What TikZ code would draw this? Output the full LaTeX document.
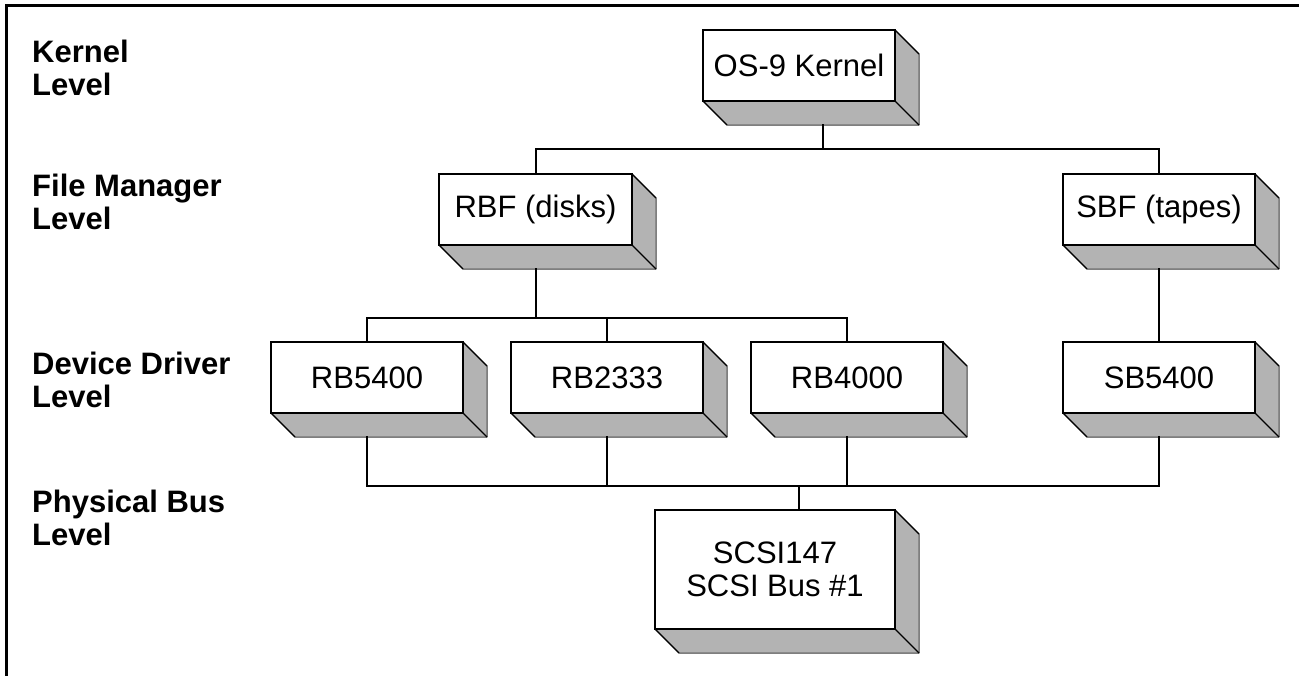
\documentclass[tikz,border=0pt]{standalone}
\usepackage{fontspec}
\setmainfont{Liberation Sans}
\usetikzlibrary{backgrounds}
\definecolor{facegray}{RGB}{179,179,179}
\tikzset{
  box/.style={draw=black, line width=2pt, fill=white, inner sep=0pt, outer sep=0pt,
    minimum width=192pt, minimum height=71pt, align=center,
    font=\fontsize{31}{32.5}\selectfont},
  lbl/.style={inner sep=0pt, align=left, anchor=base west,
    font=\fontsize{31}{32.5}\selectfont\bfseries},
  conn/.style={line width=2pt, line cap=rect},
  face/.style={fill=facegray, draw=black!75, line width=1pt, line join=round},
  edge3d/.style={draw=black, line width=1.3pt}
}
\newcommand{\threed}[1]{%
  \fill[face] (#1.south west) -- ++(24,24) -- ([shift={(24,24)}]#1.south east) -- ([shift={(24,24)}]#1.north east) -- (#1.north east) -- cycle;
  \draw[edge3d] (#1.south west) -- ++(24,24);
  \draw[edge3d] (#1.south east) -- ++(24,24);
  \draw[edge3d] (#1.north east) -- ++(24,24);
}
\begin{document}
\begin{tikzpicture}[x=1pt, y=-1pt]
\useasboundingbox (0,0) rectangle (1299,675);
% frame
\draw[line width=2.6pt] (6.5,676) -- (6.5,5.5) -- (1300,5.5);
% level labels (anchor at the baseline of the last line)
\node[lbl] (lk) at (32,95) {Kernel\\Level};
\node[lbl] (lf) at (32,229) {File Manager\\Level};
\node[lbl] (ld) at (32,407) {Device Driver\\Level};
\node[lbl] (lp) at (32,545) {Physical Bus\\Level};
% boxes
\node[box] (kernel) at (799,65.5) {OS-9 Kernel};
\node[box, minimum width=193pt] (rbf) at (535.5,209.5) {RBF (disks)};
\node[box] (sbf) at (1159,209.5) {SBF (tapes)};
\node[box] (rb5400) at (367,377.5) {RB5400};
\node[box] (rb2333) at (607,377.5) {RB2333};
\node[box] (rb4000) at (847,377.5) {RB4000};
\node[box] (sb5400) at (1159,377.5) {SB5400};
\node[box, minimum width=240pt, minimum height=119pt] (scsi) at (775,569.5) {SCSI147\\SCSI Bus \#1};
\begin{scope}[on background layer]
  \threed{kernel}
  \threed{rbf}
  \threed{sbf}
  \threed{rb5400}
  \threed{rb2333}
  \threed{rb4000}
  \threed{sb5400}
  \threed{scsi}
\end{scope}
% connectors
\coordinate (b1) at (823,149);
\coordinate (b2) at (535.5,318);
\coordinate (b3) at (799,486);
\draw[conn] ([shift={(24,24)}]kernel.south) -- (b1);
\draw[conn] (rbf.north) |- (b1) -| (sbf.north);
\draw[conn] ([shift={(0,24)}]rbf.south) -- (b2);
\draw[conn] (rb5400.north) |- (b2) -| (rb4000.north);
\draw[conn] (rb2333.north) -- (rb2333.north |- b2);
\draw[conn] ([shift={(0,24)}]sbf.south) -- (sb5400.north);
\draw[conn] ([shift={(0,24)}]rb5400.south) |- (b3) -| ([shift={(0,24)}]sb5400.south);
\draw[conn] ([shift={(0,24)}]rb2333.south) -- (rb2333.south |- b3);
\draw[conn] ([shift={(0,24)}]rb4000.south) -- (rb4000.south |- b3);
\draw[conn] (b3) -- (b3 |- scsi.north);
\end{tikzpicture}
\end{document}
